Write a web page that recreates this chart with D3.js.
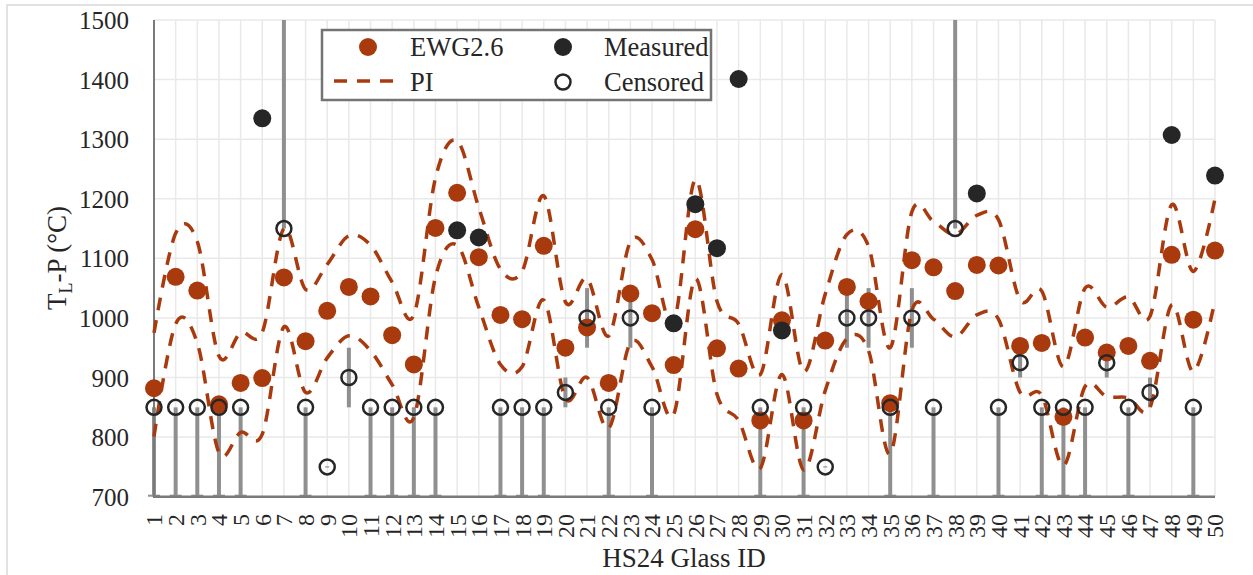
<!DOCTYPE html>
<html lang="en">
  <head>
    <meta charset="utf-8" />
    <title>HS24 Glass TL-P</title>
    <style>
      body {
        margin: 0;
        background: #ffffff;
      }
      svg text {
        font-family: "Liberation Serif", "Times New Roman", serif;
        fill: #262626;
      }
    </style>
    <script src="https://cdnjs.cloudflare.com/ajax/libs/d3/7.8.5/d3.min.js"></script>
  </head>
  <body>
    <svg width="1253" height="575" font-family="Liberation Serif, serif"></svg>
    <script>
      // glass ids on the x axis
      var glassIds = [1, 2, 3, 4, 5, 6, 7, 8, 9, 10, 11, 12, 13, 14, 15, 16, 17, 18, 19, 20,
        21, 22, 23, 24, 25, 26, 27, 28, 29, 30, 31, 32, 33, 34, 35, 36, 37, 38, 39, 40,
        41, 42, 43, 44, 45, 46, 47, 48, 49, 50];

      // EWG2.6 predictions
      var ewg = [882, 1069, 1046, 855, 891, 899, 1068, 961, 1012, 1052, 1036, 971, 922, 1151, 1210,
        1102, 1005, 998, 1121, 950, 984, 891, 1041, 1008, 921, 1149, 949, 915, 828, 996,
        828, 962, 1052, 1028, 857, 1097, 1085, 1045, 1089, 1088, 953, 958, 834, 967, 942,
        953, 928, 1106, 997, 1113];

      // prediction interval, upper and lower
      var piUpper = [975, 1142, 1128, 936, 975, 976, 1150, 1048, 1090, 1138, 1122, 1060, 1005, 1235, 1297,
        1185, 1082, 1078, 1205, 1027, 1066, 970, 1128, 1098, 992, 1232, 1028, 990, 905, 1073,
        910, 1040, 1140, 1120, 950, 1178, 1162, 1140, 1172, 1165, 1030, 1045, 918, 1050, 1018,
        1035, 1003, 1190, 1078, 1200];
      var piLower = [801, 990, 958, 774, 808, 805, 985, 875, 933, 970, 945, 888, 833, 1069, 1122,
        1018, 922, 918, 1030, 865, 900, 815, 958, 918, 838, 1066, 872, 828, 748, 905,
        745, 878, 965, 945, 772, 1012, 998, 968, 1005, 998, 875, 870, 752, 885, 868,
        866, 850, 1022, 910, 1030];

      // measured liquidus temperatures
      var measuredIds = [6, 15, 16, 25, 26, 27, 28, 30, 39, 48, 50];
      var measuredValues = [1335, 1147, 1135, 991, 1191, 1117, 1401, 979, 1209, 1307, 1239];

      // censored values and their ranges (error bars)
      var censoredIds = [1, 2, 3, 4, 5, 7, 8, 9, 10, 11, 12, 13, 14, 17, 18, 19, 20, 21, 22, 23, 24,
        29, 31, 32, 33, 34, 35, 36, 37, 38, 40, 41, 42, 43, 44, 45, 46, 47, 49];
      var censoredValues = [850, 850, 850, 850, 850, 1150, 850, 750, 900, 850, 850, 850, 850, 850, 850,
        850, 875, 1000, 850, 1000, 850, 850, 850, 750, 1000, 1000, 850, 1000, 850, 1150, 850,
        925, 850, 850, 850, 925, 850, 875, 850];
      var censoredLow = [700, 700, 700, 700, 700, 1150, 700, 749, 850, 700, 700, 700, 700, 700, 700,
        700, 850, 950, 700, 950, 700, 700, 700, 749, 950, 950, 700, 950, 700, 1150, 700,
        900, 700, 700, 700, 900, 700, 850, 700];
      var censoredHigh = [850, 850, 850, 850, 850, 1500, 850, 751, 950, 850, 850, 850, 850, 850, 850,
        850, 900, 1050, 850, 1050, 850, 850, 850, 751, 1050, 1050, 850, 1050, 850, 1500, 850,
        950, 850, 850, 850, 950, 850, 900, 850];

      var yTicks = [700, 800, 900, 1000, 1100, 1200, 1300, 1400, 1500];

      var rust = "#a83a0e",
        dark = "#262626",
        barGray = "#8f8f8f",
        serif = "Liberation Serif, Times New Roman, serif";

      var svg = d3.select("svg");

      var x = d3.scaleLinear().domain([1, 50]).range([154, 1215]);
      var y = d3.scaleLinear().domain([700, 1500]).range([496.7, 20]);

      // outer chart border
      svg
        .append("rect")
        .attr("x", 7)
        .attr("y", 5)
        .attr("width", 1300)
        .attr("height", 620)
        .attr("fill", "none")
        .attr("stroke", "#d9d9d9")
        .attr("stroke-width", 1.5);

      // gridlines
      var grid = svg.append("g").attr("class", "grid");
      grid
        .selectAll("line.h")
        .data(yTicks.slice(1))
        .enter()
        .append("line")
        .attr("x1", x(1))
        .attr("x2", x(50))
        .attr("y1", (d) => y(d))
        .attr("y2", (d) => y(d))
        .attr("stroke", "#e9e9e9")
        .attr("stroke-width", 1.5);
      grid
        .selectAll("line.v")
        .data(glassIds.slice(1))
        .enter()
        .append("line")
        .attr("x1", (d) => x(d))
        .attr("x2", (d) => x(d))
        .attr("y1", y(1500))
        .attr("y2", y(700))
        .attr("stroke", "#e9e9e9")
        .attr("stroke-width", 1.5);

      // censored error bars
      var cens = censoredIds.map((id, i) => ({
        id: id,
        v: censoredValues[i],
        lo: censoredLow[i],
        hi: censoredHigh[i],
      }));
      var bars = svg.append("g").attr("class", "bars");
      bars
        .selectAll("line")
        .data(cens)
        .enter()
        .append("line")
        .attr("x1", (d) => x(d.id))
        .attr("x2", (d) => x(d.id))
        .attr("y1", (d) => y(d.lo))
        .attr("y2", (d) => y(d.hi))
        .attr("stroke", barGray)
        .attr("stroke-width", 4);
      // caps where the bars meet the axis
      bars
        .selectAll("line.cap")
        .data(cens.filter((d) => d.lo == 700))
        .enter()
        .append("line")
        .attr("x1", (d) => x(d.id) - 6)
        .attr("x2", (d) => x(d.id) + 6)
        .attr("y1", y(700) - 1)
        .attr("y2", y(700) - 1)
        .attr("stroke", barGray)
        .attr("stroke-width", 2);

      // axes lines
      svg
        .append("line")
        .attr("x1", x(1))
        .attr("x2", x(1))
        .attr("y1", y(1500))
        .attr("y2", y(700))
        .attr("stroke", "#7a7a7a")
        .attr("stroke-width", 2);
      svg
        .append("line")
        .attr("x1", x(1) - 1)
        .attr("x2", x(50))
        .attr("y1", y(700))
        .attr("y2", y(700))
        .attr("stroke", "#7a7a7a")
        .attr("stroke-width", 2.5);

      // EWG2.6 points
      svg
        .append("g")
        .selectAll("circle")
        .data(ewg)
        .enter()
        .append("circle")
        .attr("cx", (d, i) => x(glassIds[i]))
        .attr("cy", (d) => y(d))
        .attr("r", 9)
        .attr("fill", rust);

      // PI dashed curves (smoothed like excel)
      var line = d3
        .line()
        .x((d, i) => x(glassIds[i]))
        .y((d) => y(d))
        .curve(d3.curveCardinal.tension(0));
      [piUpper, piLower].forEach((series) => {
        svg
          .append("path")
          .attr("d", line(series))
          .attr("fill", "none")
          .attr("stroke", rust)
          .attr("stroke-width", 3.5)
          .attr("stroke-dasharray", "13,10");
      });

      // measured points
      svg
        .append("g")
        .selectAll("circle")
        .data(measuredValues)
        .enter()
        .append("circle")
        .attr("cx", (d, i) => x(measuredIds[i]))
        .attr("cy", (d) => y(d))
        .attr("r", 9)
        .attr("fill", dark);

      // censored open circles
      svg
        .append("g")
        .selectAll("circle")
        .data(cens)
        .enter()
        .append("circle")
        .attr("cx", (d) => x(d.id))
        .attr("cy", (d) => y(d.v))
        .attr("r", 7.5)
        .attr("fill", "none")
        .attr("stroke", dark)
        .attr("stroke-width", 2.5);

      // y tick labels
      svg
        .append("g")
        .selectAll("text")
        .data(yTicks)
        .enter()
        .append("text")
        .attr("x", 129)
        .attr("y", (d) => y(d) + 9)
        .attr("text-anchor", "end")
        .attr("font-family", serif)
        .attr("font-size", 25)
        .text((d) => d);

      // x tick labels, rotated
      svg
        .append("g")
        .selectAll("text")
        .data(glassIds)
        .enter()
        .append("text")
        .attr("transform", (d) => `translate(${x(d)},514) rotate(-90)`)
        .attr("dy", "0.35em")
        .attr("text-anchor", "end")
        .attr("font-family", serif)
        .attr("font-size", 24)
        .text((d) => d);

      // axis titles
      svg
        .append("text")
        .attr("x", 684)
        .attr("y", 567)
        .attr("text-anchor", "middle")
        .attr("font-family", serif)
        .attr("font-size", 27)
        .text("HS24 Glass ID");

      var yTitle = svg
        .append("text")
        .attr("transform", "translate(66,258) rotate(-90)")
        .attr("text-anchor", "middle")
        .attr("font-family", serif)
        .attr("font-size", 27);
      yTitle.append("tspan").text("T");
      yTitle.append("tspan").attr("font-size", 18).attr("dy", 6).text("L");
      yTitle.append("tspan").attr("dy", -6).text("-P (°C)");

      // legend
      var legend = svg.append("g").attr("class", "legend");
      legend
        .append("rect")
        .attr("x", 322)
        .attr("y", 30)
        .attr("width", 389)
        .attr("height", 70)
        .attr("fill", "#ffffff")
        .attr("stroke", "#747474")
        .attr("stroke-width", 2.5);
      legend.append("circle").attr("cx", 368).attr("cy", 47).attr("r", 9).attr("fill", rust);
      legend
        .append("line")
        .attr("x1", 334)
        .attr("x2", 394)
        .attr("y1", 81)
        .attr("y2", 81)
        .attr("stroke", rust)
        .attr("stroke-width", 3.5)
        .attr("stroke-dasharray", "13,10");
      legend.append("circle").attr("cx", 563).attr("cy", 47).attr("r", 9).attr("fill", dark);
      legend
        .append("circle")
        .attr("cx", 563)
        .attr("cy", 82)
        .attr("r", 7.5)
        .attr("fill", "none")
        .attr("stroke", dark)
        .attr("stroke-width", 2.5);
      var legendText = [
        { t: "EWG2.6", x: 410, y: 56 },
        { t: "PI", x: 410, y: 91 },
        { t: "Measured", x: 604, y: 56 },
        { t: "Censored", x: 604, y: 91 },
      ];
      legend
        .selectAll("text")
        .data(legendText)
        .enter()
        .append("text")
        .attr("x", (d) => d.x)
        .attr("y", (d) => d.y)
        .attr("font-family", serif)
        .attr("font-size", 26.5)
        .text((d) => d.t);
    </script>
  </body>
</html>
